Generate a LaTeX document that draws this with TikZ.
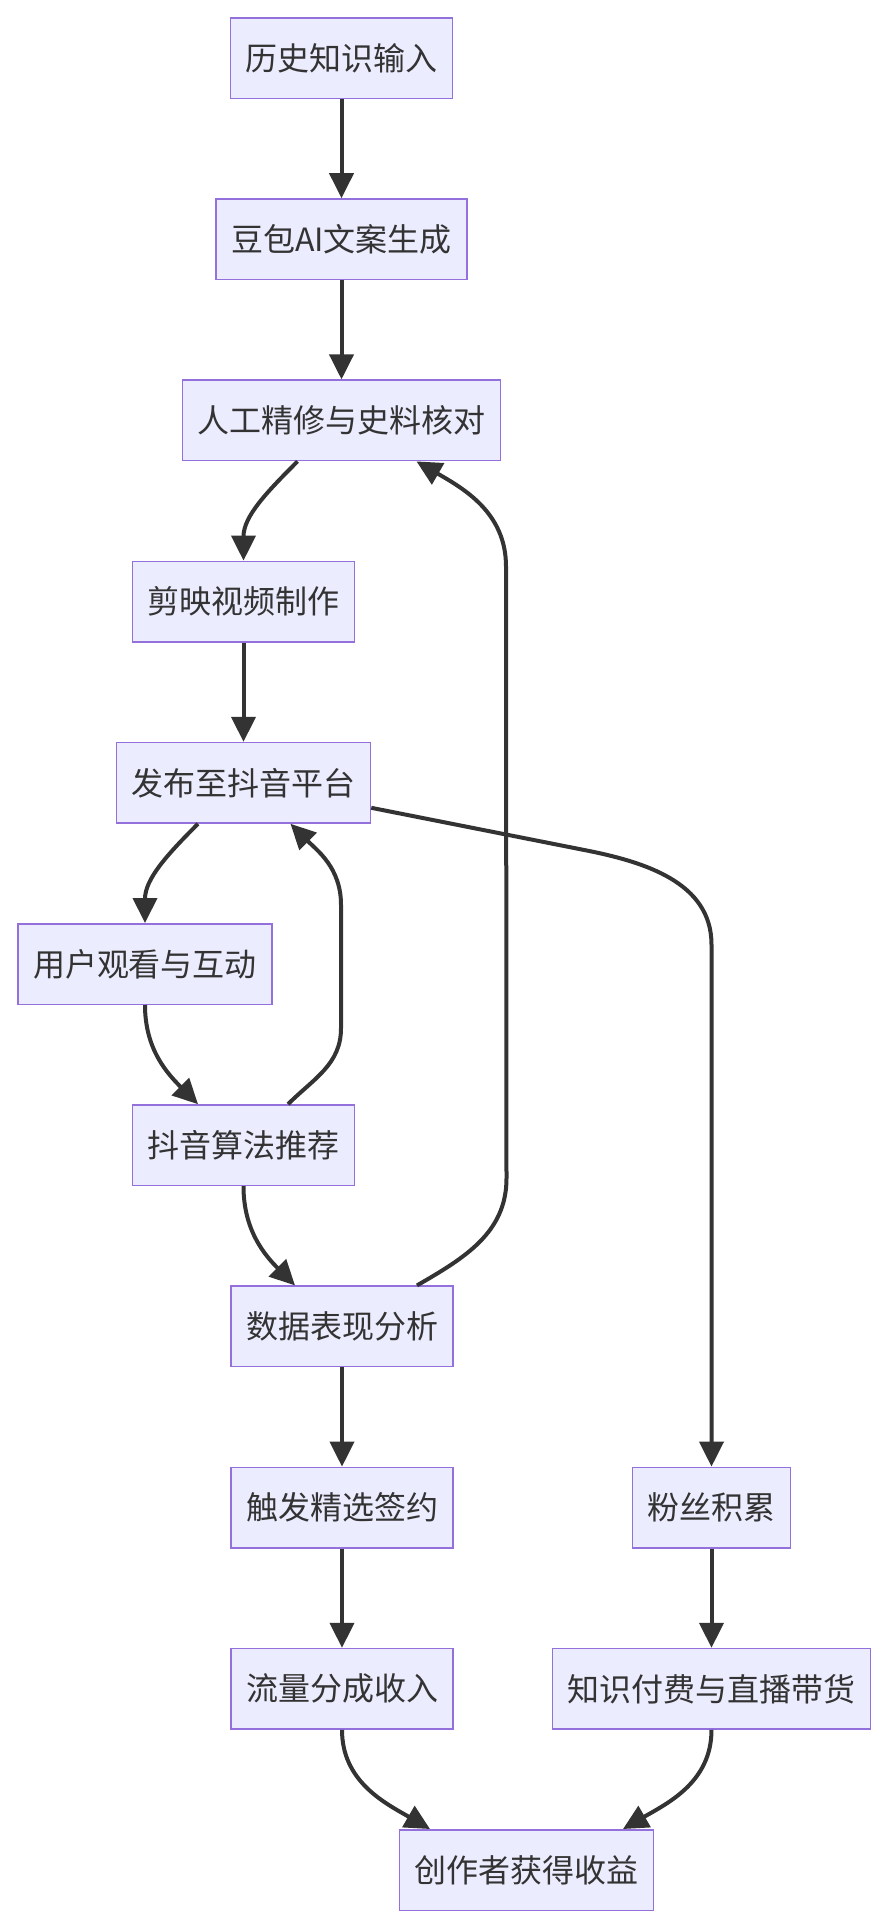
\documentclass[tikz,border=0pt]{standalone}
\usepackage{fontspec}
\usepackage{xcolor}
\usepackage{tikz}
\usetikzlibrary{arrows.meta,positioning,calc}
\newfontfamily\cjk{Noto Sans CJK SC}
\definecolor{nodefill}{HTML}{ECECFF}
\definecolor{nodeborder}{HTML}{9370DB}
\definecolor{linec}{HTML}{333333}

\begin{document}
\begin{tikzpicture}[
  node distance=99.2pt and 99.2pt,
  stepbox/.style={draw=nodeborder, line width=1.5pt, fill=nodefill, align=center, minimum height=80.5pt, inner xsep=15pt, text=linec, font=\cjk\fontsize{32}{38}\selectfont},
  arrow/.style={-{Triangle[length=25pt, width=24pt]}, line width=4pt, draw=linec}
]
\useasboundingbox[fill=white] (0,0) rectangle (888pt,-1928pt);
\node[stepbox] (input) at (341.5pt,-58pt) {历史知识输入};
\node[stepbox, below=of input] (doubao) {豆包AI文案生成};
\node[stepbox, below=of doubao] (refine) {人工精修与史料核对};
\node[stepbox, below=of refine, xshift=-98pt] (edit) {剪映视频制作};
\node[stepbox, below=of edit] (publish) {发布至抖音平台};
\node[stepbox, below=of publish, xshift=-98.5pt] (watch) {用户观看与互动};
\node[stepbox, below=of watch, xshift=98.5pt] (algo) {抖音算法推荐};
\node[stepbox, below=of algo, xshift=98.5pt] (analysis) {数据表现分析};
\node[stepbox, below=of analysis] (sign) {触发精选签约};
\node[stepbox, below=of analysis, xshift=369.5pt] (fans) {粉丝积累};
\node[stepbox, below=of sign] (income) {流量分成收入};
\node[stepbox, below=of fans] (paid) {知识付费与直播带货};
\node[stepbox, below=of income, xshift=184.5pt] (gain) {创作者获得收益};

% bend points of the long connectors
\coordinate (loopa) at ([xshift=97.5pt, yshift=76pt]algo.north);
\coordinate (loopb) at ([xshift=97.5pt, yshift=-81pt]publish.south);
\coordinate (backa) at ([xshift=164.5pt, yshift=107pt]analysis.north);
\coordinate (backb) at ([xshift=164.5pt, yshift=-105pt]refine.south);
\coordinate (fansa) at ([xshift=212pt, yshift=-67pt]publish.east);
\coordinate (fansb) at ([yshift=522pt]fans.north);

\draw[arrow] (input) -- (doubao);
\draw[arrow] (doubao) -- (refine);
\draw[arrow] ([xshift=-44pt]refine.south) to[out=-135, in=90] (edit.north);
\draw[arrow] (edit) -- (publish);
\draw[arrow] ([xshift=-45.5pt]publish.south) to[out=-135, in=90] (watch.north);
\draw[arrow] (watch.south) to[out=-90, in=135] ([xshift=-45.5pt]algo.north);
\draw[arrow] ([xshift=44.5pt]algo.north) to[out=45, in=-90] (loopa) -- (loopb) to[out=90, in=-45] ([xshift=47pt]publish.south);
\draw[arrow] (algo.south) to[out=-90, in=135] ([xshift=-47pt]analysis.north);
\draw[arrow] ([xshift=75pt]analysis.north) to[out=30, in=-90] (backa) -- (backb) to[out=90, in=-30] ([xshift=75pt]refine.south);
\draw[arrow] ([yshift=-25pt]publish.east) -- (fansa) to[out=-11, in=90] (fansb) -- (fans.north);
\draw[arrow] (analysis) -- (sign);
\draw[arrow] (sign) -- (income);
\draw[arrow] (fans) -- (paid);
\draw[arrow] (income.south) to[out=-90, in=150] ([xshift=-96.5pt]gain.north);
\draw[arrow] (paid.south) to[out=-90, in=30] ([xshift=96.5pt]gain.north);
\end{tikzpicture}
\end{document}
